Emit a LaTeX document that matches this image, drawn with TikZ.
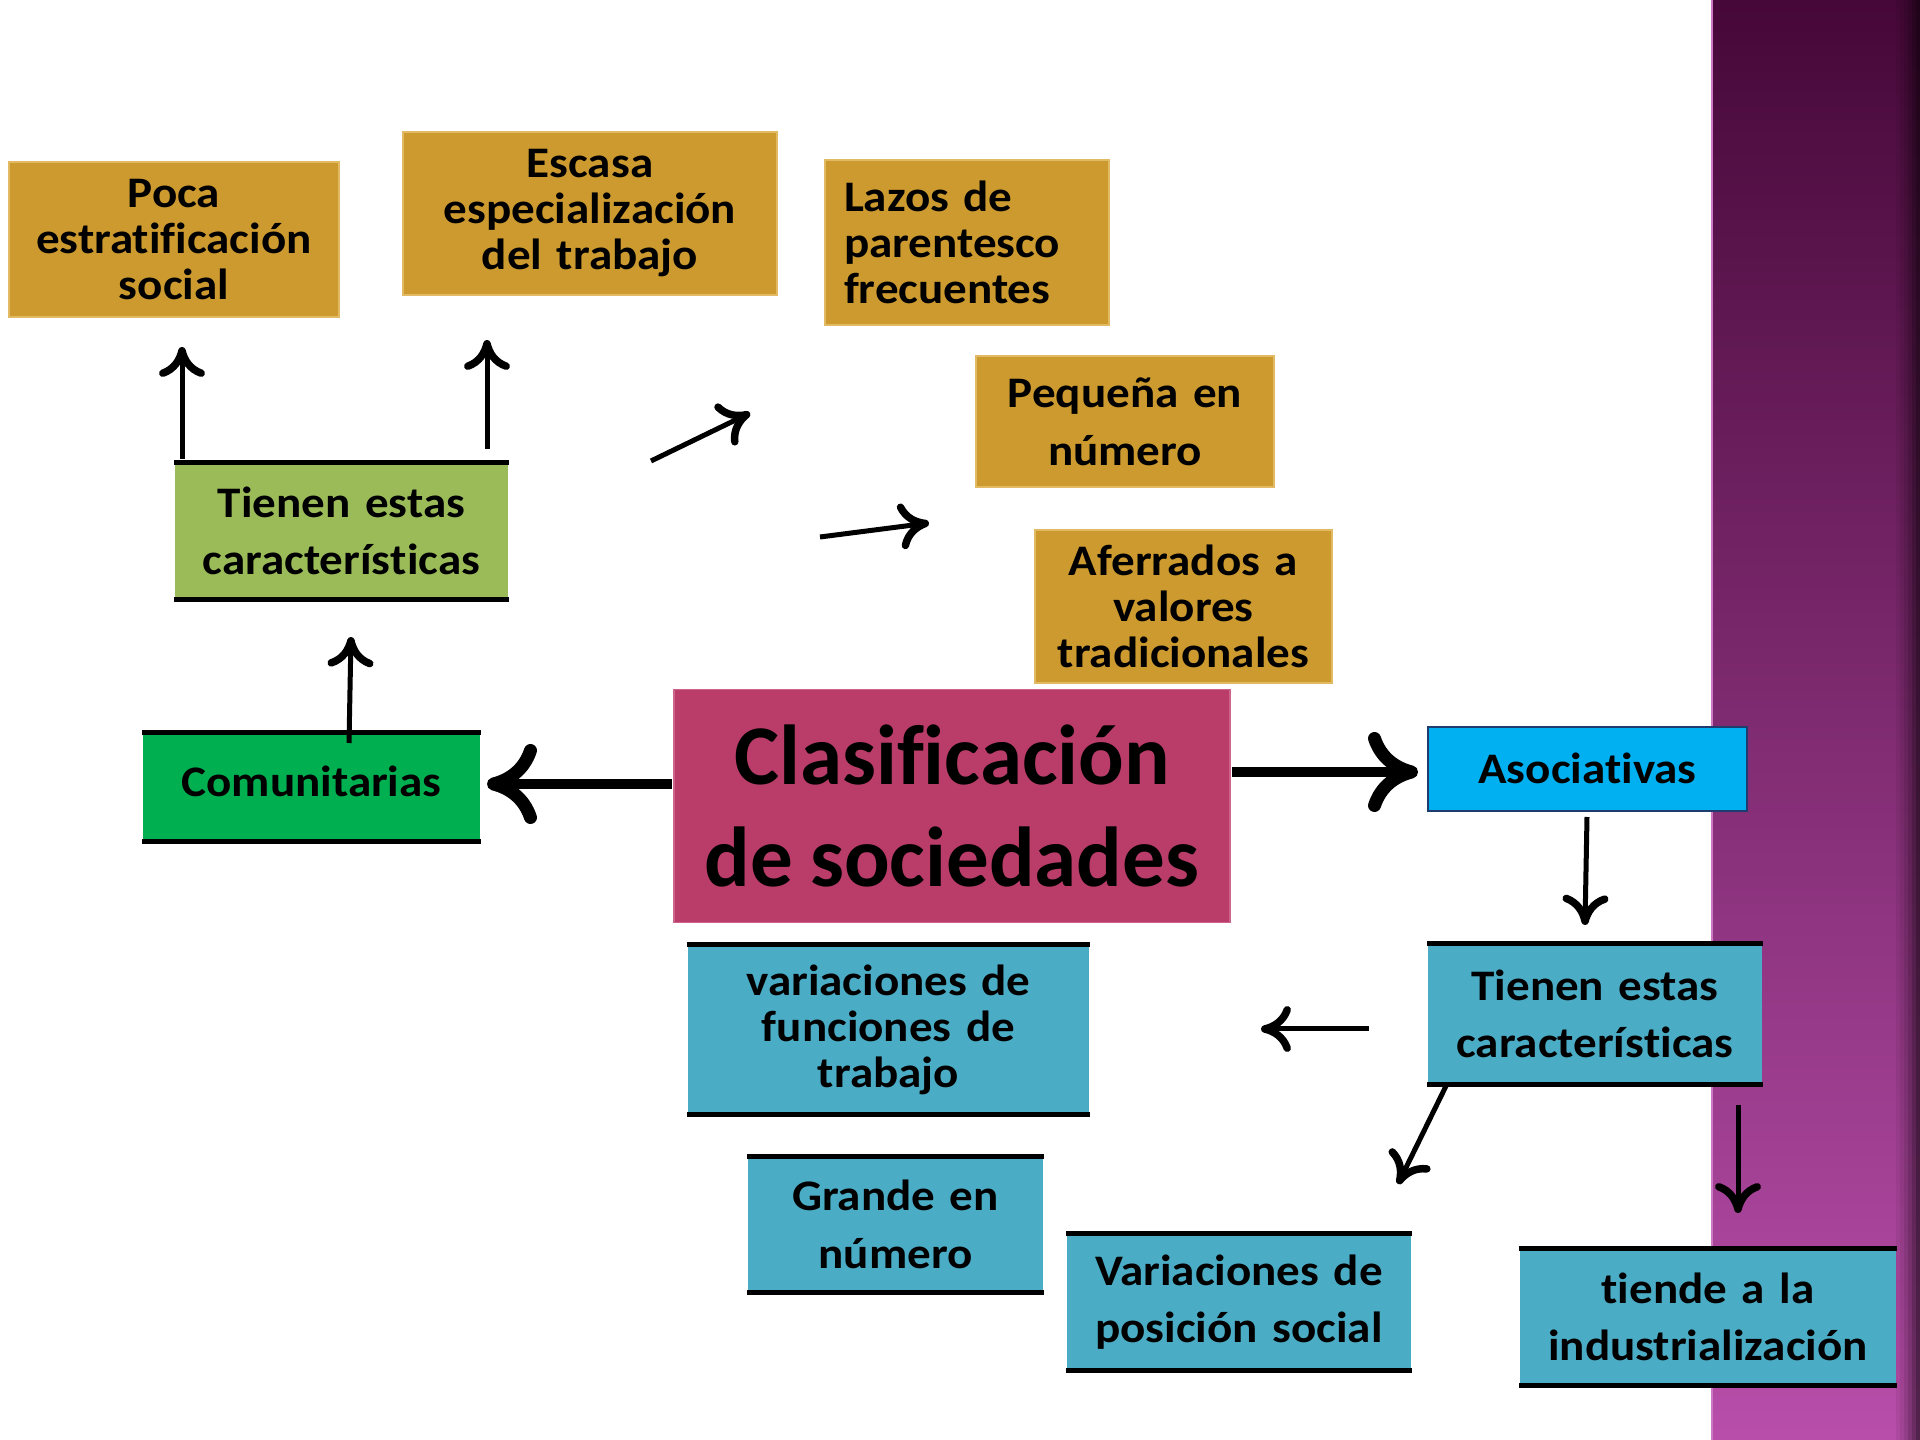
\documentclass[tikz,border=0pt]{standalone}
\usepackage{fontspec}
\setmainfont{Carlito}[FakeStretch=1.08, Ligatures=CommonOff]
\newfontfamily\titlefont{Carlito}[Ligatures=CommonOff]
\newcommand\zk{\kern0pt{}}
\usetikzlibrary{arrows.meta}
\definecolor{gold}{RGB}{204,154,46}
\definecolor{goldedge}{RGB}{226,186,100}
\definecolor{lgreen}{RGB}{155,187,89}
\definecolor{dgreen}{RGB}{0,176,80}
\definecolor{rose}{RGB}{185,61,104}
\definecolor{roseedge}{RGB}{205,100,140}
\definecolor{cyanbox}{RGB}{0,176,240}
\definecolor{navyedge}{RGB}{30,60,110}
\definecolor{teal}{RGB}{75,172,198}
\definecolor{plumtop}{RGB}{70,8,56}
\definecolor{plummid}{RGB}{130,46,114}
\definecolor{plumbot}{RGB}{184,78,170}
\definecolor{plumedge}{RGB}{205,120,195}
\tikzset{
  base/.style={font=\bfseries\fontsize{12.4}{13.1}\selectfont, align=center, inner sep=0pt, text=black},
  two/.style={font=\bfseries\fontsize{12.4}{16.4}\selectfont},
  goldbox/.style={base, fill=gold, draw=goldedge, line width=0.15mm},
  lgbox/.style={base, fill=lgreen},
  dgbox/.style={base, fill=dgreen},
  tealbox/.style={base, fill=teal},
  bar/.style={line width=0.5mm, line cap=butt},
  arr/.style={line width=0.5mm, -{To[length=3mm,width=4.6mm,line width=0.75mm]}},
  bigarr/.style={line width=1mm, -{To[length=5mm,width=8mm,line width=1.3mm]}},
}
\begin{document}
\begin{tikzpicture}[x=0.1mm,y=-0.1mm]
\useasboundingbox (0,0) rectangle (1920,1440);
\fill[white] (0,0) rectangle (1920,1440);
% purple band
\shade[top color=plumtop, middle color=plummid, bottom color=plumbot] (1711,0) rectangle (1920,1440);
\foreach \i/\o in {0/0.06,1/0.12,2/0.2,3/0.3,4/0.42,5/0.55}
  \fill[black, opacity=\o] (1896+4*\i,0) rectangle (1900+4*\i,1440);
\draw[plumedge, line width=0.2mm] (1712,0) -- (1712,1440);

% gold boxes
\node[goldbox, minimum width=33mm, minimum height=15.5mm, text width=33mm] (poca) at (174,239.5) {Poca\\estrat\zk if\zk icación\\social};
\node[goldbox, minimum width=37.4mm, minimum height=16.3mm, text width=37.4mm] (escasa) at (590,213.5) {\raisebox{0.2mm}{\parbox{37.4mm}{\centering Escasa\\especialización\\del trabajo}}};
\node[goldbox, minimum width=28.4mm, minimum height=16.5mm, text width=24.6mm, align=left, inner xsep=1.9mm] (lazos) at (967,242.5) {\raisebox{0.8mm}{\parbox{24.6mm}{Lazos de\\parentesco\\frecuentes}}};
\node[goldbox, two, minimum width=29.8mm, minimum height=13.1mm, text width=29.8mm] (peq) at (1125,421.5) {Pequeña en\\número};
\node[goldbox, minimum width=29.7mm, minimum height=15.3mm, text width=29.7mm] (afer) at (1183.5,606.5) {Aferrados a\\valores\\tradicionales};

% left branch
\node[lgbox, two, minimum width=33.3mm, minimum height=13.6mm, text width=33.3mm] (tien1) at (341.5,531) {Tienen estas\\caracterís\zk t\zk icas};
\node[dgbox, minimum width=33.7mm, minimum height=10.8mm, text width=33.7mm] (comu) at (311.5,787) {\raisebox{1.2mm}{Comunitarias}};

% center
\node[base, fill=rose, draw=roseedge, line width=0.15mm, minimum width=55.6mm, minimum height=23.3mm, text width=55.6mm,
      font=\titlefont\bfseries\fontsize{24.2}{29}\selectfont] (clas) at (952,806) {Clasif\zk icación\\de\hspace{0.2em}sociedades};

% right branch
\node[base, fill=cyanbox, draw=navyedge, line width=0.15mm, minimum width=31.9mm, minimum height=8.4mm, text width=31.9mm] (asoc) at (1587.5,769) {\raisebox{0.2mm}{Asociat\zk ivas}};
\node[tealbox, two, minimum width=33.4mm, minimum height=14mm, text width=33.4mm] (tien2) at (1595,1014) {Tienen estas\\caracterís\zk t\zk icas};
\node[tealbox, minimum width=40.1mm, minimum height=16.9mm, text width=40.1mm] (varf) at (888.5,1029.5) {\raisebox{0.35mm}{\parbox{40.1mm}{\centering variaciones de\\funciones de\\trabajo}}};
\node[tealbox, two, minimum width=29.5mm, minimum height=13.5mm, text width=29.5mm] (grande) at (895.5,1224.5) {\raisebox{-0.3mm}{\parbox{29.5mm}{\centering Grande en\\número}}};
\node[tealbox, two, minimum width=34.4mm, minimum height=13.6mm, text width=34.4mm] (varp) at (1239,1302) {\raisebox{-0.5mm}{\parbox{34.4mm}{\centering Variaciones de\\posición social}}};
\node[tealbox, two, minimum width=37.6mm, minimum height=13.6mm, text width=37.6mm] (tiende) at (1708,1317) {t\zk iende a la\\industrialización};

\foreach \n in {tien1,comu,tien2,varf,grande,varp,tiende}{
  \draw[bar] (\n.north west) -- (\n.north east);
  \draw[bar] (\n.south west) -- (\n.south east);
}

% arrow end points
\coordinate (a1s) at (182,459);  \coordinate (a1e) at (182,347);
\coordinate (a2s) at (487,449);  \coordinate (a2e) at (487,340);
\coordinate (a3s) at (651,461);  \coordinate (a3e) at (750,413);
\coordinate (a4s) at (820,537);  \coordinate (a4e) at (929,523);
\coordinate (a5s) at (349,743);  \coordinate (a5e) at (351,637);
\coordinate (a6s) at (672,784);  \coordinate (a6e) at (487,784);
\coordinate (a7s) at (1232,772); \coordinate (a7e) at (1418,772);
\coordinate (a8s) at (1587,817); \coordinate (a8e) at (1585,925);
\coordinate (a9s) at (1369,1029); \coordinate (a9e) at (1261,1029);
\coordinate (a10s) at (1446,1086); \coordinate (a10e) at (1398,1184);
\coordinate (a11s) at (1738,1105); \coordinate (a11e) at (1738,1213);

\draw[arr] (a1s) -- (a1e);
\draw[arr] (a2s) -- (a2e);
\draw[arr] (a3s) -- (a3e);
\draw[arr] (a4s) -- (a4e);
\draw[arr] (a5s) -- (a5e);
\draw[bigarr] (a6s) -- (a6e);
\draw[bigarr] (a7s) -- (a7e);
\draw[arr] (a8s) -- (a8e);
\draw[arr] (a9s) -- (a9e);
\draw[arr] (a10s) -- (a10e);
\draw[arr] (a11s) -- (a11e);
\end{tikzpicture}
\end{document}
